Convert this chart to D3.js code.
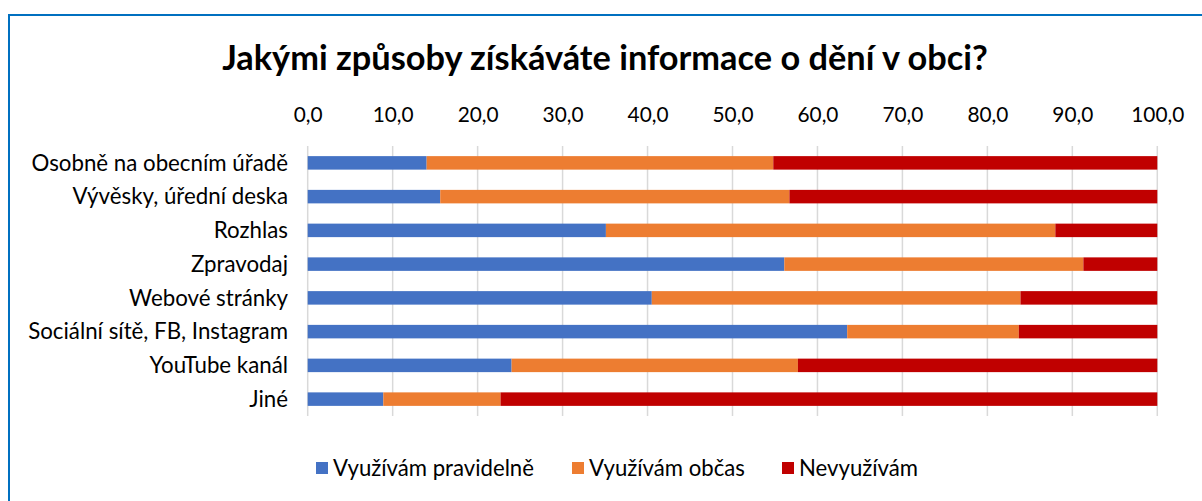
<!DOCTYPE html>
<html>
<head>
<meta charset="utf-8">
<script src="https://cdn.jsdelivr.net/npm/d3@7"></script>
<style>
  html, body { margin: 0; padding: 0; background: #fff; }
  svg { display: block; }
</style>
</head>
<body>
<svg id="chart" width="1202" height="501"></svg>
<script>
const title = "Jakými způsoby získáváte informace o dění v obci?";
const categories = [
  "Osobně na obecním úřadě",
  "Vývěsky, úřední deska",
  "Rozhlas",
  "Zpravodaj",
  "Webové stránky",
  "Sociální sítě, FB, Instagram",
  "YouTube kanál",
  "Jiné"
];
const seriesNames = ["Využívám pravidelně", "Využívám občas", "Nevyužívám"];
const regularly = [14.0, 15.6, 35.1, 56.1, 40.5, 63.5, 24.0, 8.9];
const sometimes = [40.8, 41.1, 52.9, 35.2, 43.4, 20.2, 33.7, 13.8];
const never     = [45.2, 43.3, 12.0, 8.7, 16.1, 16.3, 42.3, 77.3];
const xTicks = [0, 10, 20, 30, 40, 50, 60, 70, 80, 90, 100];
const colors = ["#4472C4", "#ED7D31", "#C00000"];

const FONT = "Lato, 'Open Sans', sans-serif";
const svg = d3.select("#chart");

function fitSize(text, weight, target) {
  const t = svg.append("text").attr("font-family", FONT).attr("font-weight", weight)
    .attr("font-size", 100).text(text);
  const w = t.node().getComputedTextLength();
  t.remove();
  return 100 * target / w;
}

// frame
svg.append("path")
  .attr("d", "M9,505 L9,15 L1210,15")
  .attr("fill", "none").attr("stroke", "#0070C0").attr("stroke-width", 2);

// title
const titleSize = fitSize(title, "bold", 766);
svg.append("text")
  .attr("x", 605).attr("y", 70).attr("text-anchor", "middle")
  .attr("font-family", FONT).attr("font-weight", "bold").attr("font-size", titleSize)
  .attr("fill", "#000").text(title);

const x = d3.scaleLinear().domain([0, 100]).range([307.7, 1157.3]);
const y = d3.scaleBand().domain(categories).range([146, 416]).paddingInner(0.6).paddingOuter(0.3);

// gridlines
svg.append("g").selectAll("line").data(xTicks).join("line")
  .attr("x1", d => x(d)).attr("x2", d => x(d))
  .attr("y1", 146).attr("y2", 416)
  .attr("stroke", "#D9D9D9").attr("stroke-width", 1.5);

// top axis
const tickSize = fitSize("10,0", "normal", 41);
const axis = d3.axisTop(x).tickValues(xTicks).tickSize(0).tickPadding(0)
  .tickFormat(d => d.toFixed(1).replace(".", ","));
const gAxis = svg.append("g").attr("transform", "translate(0,122)").call(axis);
gAxis.select(".domain").remove();
gAxis.selectAll("text").attr("font-family", FONT).attr("font-size", tickSize)
  .attr("fill", "#000").attr("dy", 0);

// stacked data
const rows = categories.map((c, i) => ({ cat: c, v: [regularly[i], sometimes[i], never[i]] }));
const stack = d3.stack().keys([0, 1, 2]).value((d, k) => d.v[k]);
const stacked = stack(rows);

svg.append("g").selectAll("g").data(stacked).join("g")
  .attr("fill", (d, i) => colors[i])
  .selectAll("rect").data(d => d).join("rect")
  .attr("x", d => x(d[0]))
  .attr("width", d => x(d[1]) - x(d[0]))
  .attr("y", d => y(d.data.cat))
  .attr("height", y.bandwidth());

// category labels
const catSize = fitSize("Sociální sítě, FB, Instagram", "normal", 260);
const gY = svg.append("g").attr("transform", "translate(288,0)")
  .call(d3.axisLeft(y).tickSize(0).tickPadding(0));
gY.select(".domain").remove();
gY.selectAll("text").attr("font-family", FONT).attr("font-size", catSize).attr("fill", "#000")
  .attr("dy", "0.35em");

// legend
const legSize = fitSize("Využívám pravidelně", "normal", 201);
const legX = [316, 572, 782];
const legend = svg.append("g");
seriesNames.forEach((n, i) => {
  legend.append("rect").attr("x", legX[i]).attr("y", 462).attr("width", 12).attr("height", 12)
    .attr("fill", colors[i]);
  legend.append("text").attr("x", legX[i] + 17).attr("y", 468).attr("dy", "0.35em")
    .attr("font-family", FONT).attr("font-size", legSize).attr("fill", "#000").text(n);
});
</script>
</body>
</html>
